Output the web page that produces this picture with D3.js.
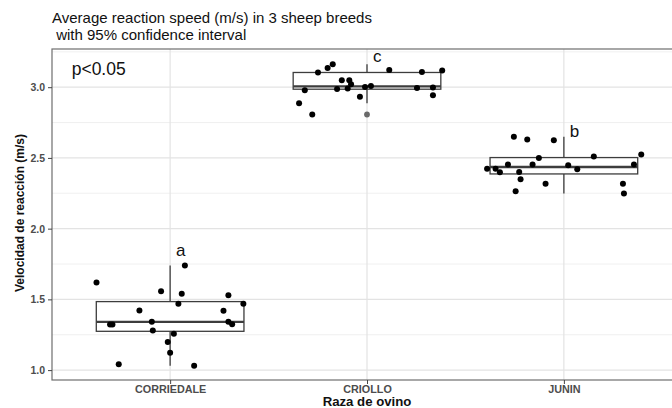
<!DOCTYPE html>
<html>
<head>
<meta charset="utf-8">
<script src="https://cdn.jsdelivr.net/npm/d3@7"></script>
<style>
  body { margin: 0; background: #fff; }
  svg { display: block; font-family: "Liberation Sans", Arial, sans-serif; }
</style>
</head>
<body>
<div id="chart"></div>
<script>
// breeds and measured speeds (m/s), jitter = horizontal offset in category units
const breeds = ["CORRIEDALE", "CRIOLLO", "JUNIN"];

const speedCorriedale = [1.620, 1.323, 1.323, 1.042, 1.422, 1.558, 1.341, 1.280, 1.198, 1.122,
                         1.257, 1.469, 1.539, 1.740, 1.030, 1.419, 1.530, 1.341, 1.325, 1.469];
const jitterCorriedale = [-0.374, -0.305, -0.293, -0.261, -0.156, -0.046, -0.093, -0.088, -0.012, 0.000,
                          0.019, 0.042, 0.059, 0.075, 0.122, 0.271, 0.296, 0.296, 0.315, 0.372];

const speedCriollo = [2.887, 2.979, 2.807, 3.103, 3.136, 3.163, 2.988, 3.049, 2.990, 3.049,
                      3.021, 2.932, 3.002, 3.009, 3.122, 2.995, 3.107, 2.998, 2.943, 3.118];
const jitterCriollo = [-0.345, -0.316, -0.278, -0.249, -0.200, -0.174, -0.152, -0.128, -0.098, -0.090,
                       -0.081, -0.036, -0.010, 0.020, 0.113, 0.254, 0.279, 0.335, 0.335, 0.382];

const speedJunin = [2.423, 2.423, 2.399, 2.454, 2.649, 2.265, 2.401, 2.350, 2.630, 2.454,
                    2.500, 2.318, 2.625, 2.449, 2.420, 2.510, 2.318, 2.248, 2.454, 2.524];
const jitterJunin = [-0.390, -0.347, -0.325, -0.284, -0.254, -0.245, -0.227, -0.220, -0.186, -0.159,
                     -0.127, -0.093, -0.051, 0.022, 0.068, 0.152, 0.300, 0.305, 0.356, 0.393];

const groupLetters = ["a", "c", "b"];
const letterY = [1.81, 3.18, 2.645];

const yTicks = [1.0, 1.5, 2.0, 2.5, 3.0];
const yMinor = [1.25, 1.75, 2.25, 2.75, 3.25];

const titleLines = ["Average reaction speed (m/s) in 3 sheep breeds", " with 95% confidence interval"];
const pText = "p<0.05";
const pPos = [0.5, 3.085];

const speeds = [speedCorriedale, speedCriollo, speedJunin];
const jitters = [jitterCorriedale, jitterCriollo, jitterJunin];

const W = 672, H = 408;
const svg = d3.select("#chart").append("svg")
    .attr("width", W)
    .attr("height", H);

// ggplot-like positions: categories at 1..3, 0.6 expansion
const x = d3.scaleLinear().domain([0.4, 3.6]).range([52, 682]);
const y = d3.scaleLinear().domain([0.93, 3.27]).range([380, 49]);

const panel = svg.append("g");

// grid
panel.selectAll(".minor").data(yMinor).join("line")
    .attr("x1", x(0.4)).attr("x2", x(3.6))
    .attr("y1", d => y(d)).attr("y2", d => y(d))
    .attr("stroke", "#eeeeee").attr("stroke-width", 0.9);
panel.selectAll(".major").data(yTicks).join("line")
    .attr("x1", x(0.4)).attr("x2", x(3.6))
    .attr("y1", d => y(d)).attr("y2", d => y(d))
    .attr("stroke", "#e3e3e3").attr("stroke-width", 1.2);
panel.selectAll(".vgrid").data(breeds).join("line")
    .attr("x1", (d, i) => x(i + 1)).attr("x2", (d, i) => x(i + 1))
    .attr("y1", y(0.93)).attr("y2", y(3.27))
    .attr("stroke", "#e3e3e3").attr("stroke-width", 1.2);

// boxplots
const boxW = 0.75;
const stats = speeds.map(v => {
    const s = v.slice().sort(d3.ascending);
    const q1 = d3.quantile(s, 0.25), med = d3.quantile(s, 0.5), q3 = d3.quantile(s, 0.75);
    const iqr = q3 - q1;
    const inside = s.filter(d => d >= q1 - 1.5 * iqr && d <= q3 + 1.5 * iqr);
    return {
        q1, med, q3,
        lo: d3.min(inside), hi: d3.max(inside),
        out: s.filter(d => d < q1 - 1.5 * iqr || d > q3 + 1.5 * iqr)
    };
});

const boxColor = "#3d3d3d";
const bx = panel.selectAll(".box").data(stats).join("g");
bx.append("line")
    .attr("x1", (d, i) => x(i + 1)).attr("x2", (d, i) => x(i + 1))
    .attr("y1", d => y(d.hi)).attr("y2", d => y(d.q3))
    .attr("stroke", boxColor).attr("stroke-width", 1.3);
bx.append("line")
    .attr("x1", (d, i) => x(i + 1)).attr("x2", (d, i) => x(i + 1))
    .attr("y1", d => y(d.q1)).attr("y2", d => y(d.lo))
    .attr("stroke", boxColor).attr("stroke-width", 1.3);
bx.append("rect")
    .attr("x", (d, i) => x(i + 1 - boxW / 2))
    .attr("width", x(1 + boxW / 2) - x(1 - boxW / 2))
    .attr("y", d => y(d.q3))
    .attr("height", d => y(d.q1) - y(d.q3))
    .attr("fill", "#fff")
    .attr("stroke", boxColor).attr("stroke-width", 1.3);
bx.append("line")
    .attr("x1", (d, i) => x(i + 1 - boxW / 2)).attr("x2", (d, i) => x(i + 1 + boxW / 2))
    .attr("y1", d => y(d.med)).attr("y2", d => y(d.med))
    .attr("stroke", boxColor).attr("stroke-width", 2.4);
bx.each(function(d, i) {
    d3.select(this).selectAll("circle").data(d.out).join("circle")
        .attr("cx", x(i + 1))
        .attr("cy", v => y(v))
        .attr("r", 2.9)
        .attr("fill", "#6a6a6a");
});

// jittered points
speeds.forEach((v, i) => {
    panel.append("g").selectAll("circle").data(v).join("circle")
        .attr("cx", (d, j) => x(i + 1 + jitters[i][j]))
        .attr("cy", d => y(d))
        .attr("r", 3)
        .attr("fill", "#000");
});

// group letters
panel.selectAll(".letter").data(groupLetters).join("text")
    .attr("x", (d, i) => x(i + 1.03))
    .attr("y", (d, i) => y(letterY[i]))
    .attr("font-size", 17)
    .attr("fill", "#111")
    .text(d => d);

panel.append("text")
    .attr("x", x(pPos[0]))
    .attr("y", y(pPos[1]))
    .attr("font-size", 17.5)
    .attr("fill", "#111")
    .text(pText);

// panel border
svg.append("rect")
    .attr("x", x(0.4)).attr("y", y(3.27))
    .attr("width", x(3.6) - x(0.4))
    .attr("height", y(0.93) - y(3.27))
    .attr("fill", "none")
    .attr("stroke", "#6e6e6e").attr("stroke-width", 1.2);

// y axis
svg.append("g")
    .attr("transform", `translate(${x(0.4)},0)`)
    .call(d3.axisLeft(y).tickValues(yTicks).tickFormat(d3.format(".1f")).tickSize(4).tickPadding(3))
    .call(g => g.select(".domain").remove())
    .call(g => g.selectAll(".tick line").attr("stroke", "#444"))
    .call(g => g.selectAll(".tick text")
        .attr("font-family", "Liberation Sans, Arial, sans-serif")
        .attr("font-size", 10.5).attr("font-weight", "bold").attr("fill", "#4d4d4d"));

// x axis
const xb = d3.scalePoint().domain(breeds).range([x(1), x(3)]);
svg.append("g")
    .attr("transform", `translate(0,${y(0.93)})`)
    .call(d3.axisBottom(xb).tickSize(4).tickPadding(1))
    .call(g => g.select(".domain").remove())
    .call(g => g.selectAll(".tick line").attr("stroke", "#444"))
    .call(g => g.selectAll(".tick text")
        .attr("font-family", "Liberation Sans, Arial, sans-serif")
        .attr("font-size", 10.8).attr("font-weight", "bold").attr("fill", "#4d4d4d"));

// axis titles
svg.append("text")
    .attr("x", x(2)).attr("y", 405.5)
    .attr("text-anchor", "middle")
    .attr("font-size", 13.2).attr("font-weight", "bold").attr("fill", "#111")
    .text("Raza de ovino");

svg.append("text")
    .attr("transform", "translate(24,213) rotate(-90)")
    .attr("text-anchor", "middle")
    .attr("font-size", 12).attr("font-weight", "bold").attr("fill", "#111")
    .text("Velocidad de reacción (m/s)");

// title, two lines
svg.append("g").selectAll("text").data(titleLines).join("text")
    .attr("x", 52)
    .attr("y", (d, i) => 23 + i * 17)
    .attr("font-size", 15)
    .attr("fill", "#111")
    .style("white-space", "pre")
    .text(d => d);
</script>
</body>
</html>
